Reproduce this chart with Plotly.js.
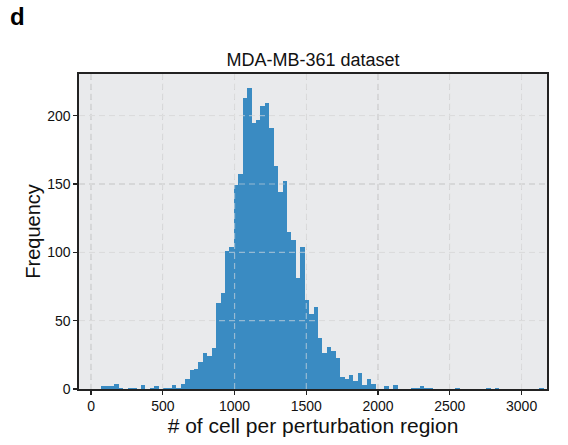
<!DOCTYPE html>
<html>
<head>
<meta charset="utf-8">
<script src="https://cdn.plot.ly/plotly-3.0.1.min.js"></script>
<style>html,body{margin:0;padding:0;background:#fff;}#chart{width:568px;height:445px;}</style>
</head>
<body>
<div id="chart"></div>
<script>
// Histogram: 100 bins
const binStart = 70;
const binWidth = 30.84;
const counts = [
  2,2,2,4,1,0,1,1,0,3,
  0,1,2,0,1,1,3,1,4,7,
  14,15,20,26,24,30,63,70,101,104,
  149,157,213,220,195,197,207,209,191,163,
  144,152,115,109,81,104,65,55,60,37,
  26,31,28,23,9,7,10,6,12,3,
  7,4,0,0,2,0,3,0,0,0,
  1,1,2,1,1,0,0,0,0,0,
  1,0,0,0,0,0,0,1,0,1,
  0,0,0,0,0,0,0,0,0,1
];
const xTicks = [0,500,1000,1500,2000,2500,3000];
const yTicks = [0,50,100,150,200];
const xRange = [-84, 3177];
const yRange = [0, 230.5];

const centers = counts.map((c,i)=> binStart + binWidth*(i+0.5));

const gridShapes = [];
xTicks.forEach(v=>gridShapes.push({type:'line',xref:'x',yref:'paper',x0:v,x1:v,y0:0,y1:1,layer:'above',
  line:{color:'rgba(225,225,225,0.55)',width:1.2,dash:'6px,4px'}}));
yTicks.slice(1).forEach(v=>gridShapes.push({type:'line',xref:'paper',yref:'y',x0:0,x1:1,y0:v,y1:v,layer:'above',
  line:{color:'rgba(225,225,225,0.55)',width:1.2,dash:'6px,4px'}}));

const trace = {
  type:'bar', x:centers, y:counts, width:binWidth,
  marker:{color:'#3a8bc2', line:{width:0}},
  hoverinfo:'x+y'
};

const font = 'Liberation Sans, Arial, sans-serif';
const layout = {
  width:568, height:445,
  margin:{l:79, r:21, t:74, b:56},
  paper_bgcolor:'#ffffff', plot_bgcolor:'#e9eaec',
  showlegend:false,
  bargap:0,
  font:{family:font, color:'#111'},
  title:{text:'MDA-MB-361 dataset', font:{family:font,size:18,color:'#111'}, x:0.5, xanchor:'center', xref:'paper', y:0.865, yanchor:'middle'},
  xaxis:{range:xRange, tickvals:xTicks, ticktext:xTicks.map(String), ticks:'outside', ticklen:4, tickwidth:1.2, tickcolor:'#222',
    showline:true, linecolor:'#222', linewidth:1.6, mirror:true, zeroline:false,
    showgrid:true, gridcolor:'#d2d3d5', griddash:'6px,4px', gridwidth:1.2,
    tickfont:{family:font,size:14,color:'#111'},
    title:{text:'# of cell per perturbation region', font:{family:font,size:21,color:'#111'}, standoff:3}},
  yaxis:{range:yRange, tickvals:yTicks, ticktext:yTicks.map(String), ticks:'outside', ticklen:4, tickwidth:1.2, tickcolor:'#222',
    showline:true, linecolor:'#222', linewidth:1.6, mirror:true, zeroline:false,
    showgrid:true, gridcolor:'#d2d3d5', griddash:'6px,4px', gridwidth:1.2,
    tickfont:{family:font,size:14,color:'#111'},
    title:{text:'Frequency', font:{family:font,size:20,color:'#111'}, standoff:1}},
  shapes:gridShapes,
  annotations:[{text:'<b>d</b>', xref:'paper', yref:'paper', x:(8-79)/468, y:1+(74-17)/315, xanchor:'left', yanchor:'middle',
    showarrow:false, font:{family:font,size:24,color:'#000'}}]
};

Plotly.newPlot('chart',[trace],layout,{displayModeBar:false,staticPlot:true});
</script>
</body>
</html>
